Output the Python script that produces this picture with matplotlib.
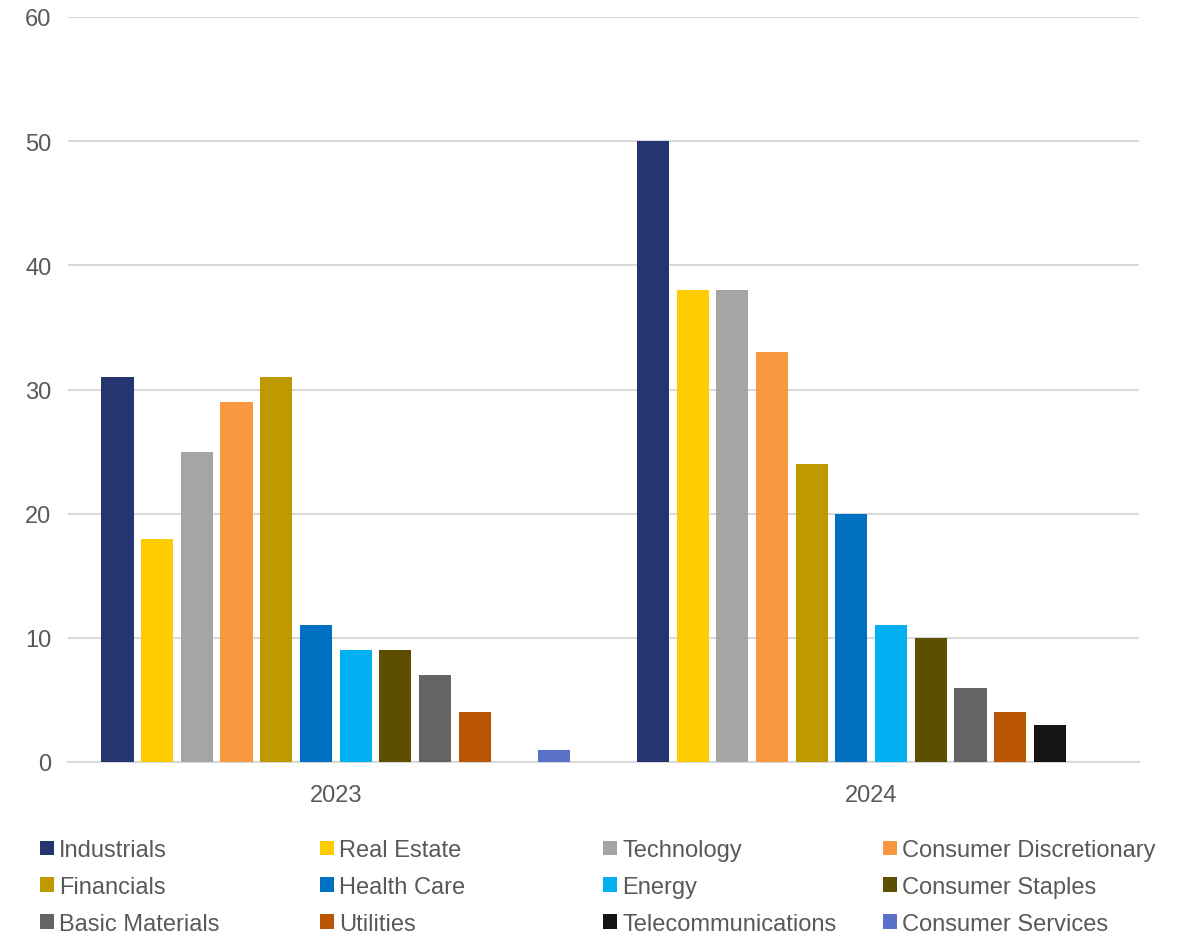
import matplotlib.pyplot as plt
import numpy as np

plt.rcParams['font.family'] = ['Liberation Sans', 'DejaVu Sans']

# data
years = ['2023', '2024']
sectors = ['Industrials', 'Real Estate', 'Technology', 'Consumer Discretionary',
           'Financials', 'Health Care', 'Energy', 'Consumer Staples',
           'Basic Materials', 'Utilities', 'Telecommunications', 'Consumer Services']
v2023 = [31, 18, 25, 29, 31, 11, 9, 9, 7, 4, 0, 1]
v2024 = [50, 38, 38, 33, 24, 20, 11, 10, 6, 4, 3, 0]
colors = ['#243570', '#FFCC00', '#A5A5A5', '#F99841', '#BF9900', '#0070C0',
          '#00B0F0', '#5E4E00', '#646464', '#BA5504', '#141414', '#5B70C8']

fig = plt.figure(figsize=(11.83, 9.37), dpi=100)
ax = fig.add_axes([68/1183, 1 - 763/937, (1139-68)/1183, (763-18)/937])

x = np.arange(len(years)) + 0.5
step = 0.0741
w = 0.06
handles = []
for i, s in enumerate(sectors):
    off = (i - 5.5) * step
    b = ax.bar(x + off, [v2023[i], v2024[i]], width=w, color=colors[i], label=s, zorder=3)
    handles.append(b)

ax.set_xlim(0, 2)
ax.set_ylim(0, 60)
ax.set_yticks(range(0, 61, 10))
ax.set_xticks(x)
ax.set_xticklabels(years)
ax.grid(axis='y', color='#D9D9D9', linewidth=1.5, zorder=0)
for sp in ['top', 'right', 'left']:
    ax.spines[sp].set_visible(False)
ax.spines['bottom'].set_color('#D9D9D9')
ax.spines['bottom'].set_linewidth(1.5)
ax.tick_params(axis='both', length=0, labelsize=17, labelcolor='#595959')
ax.tick_params(axis='y', pad=12)
ax.tick_params(axis='x', pad=16)

# legend: 4 columns, filled row by row
col_x = [31, 311, 594, 874]
for c in range(4):
    hs = [handles[c + 4*r] for r in range(3)]
    ls = [sectors[c + 4*r] for r in range(3)]
    leg = fig.legend(hs, ls, loc='upper left', bbox_to_anchor=(col_x[c]/1183, 1 - 831/937),
                     frameon=False, fontsize=17, handlelength=0.58, handleheight=0.58,
                     handletextpad=0.22, labelspacing=0.62, borderaxespad=0)
    for t in leg.get_texts():
        t.set_color('#595959')

fig.savefig('out.png', dpi=100)
